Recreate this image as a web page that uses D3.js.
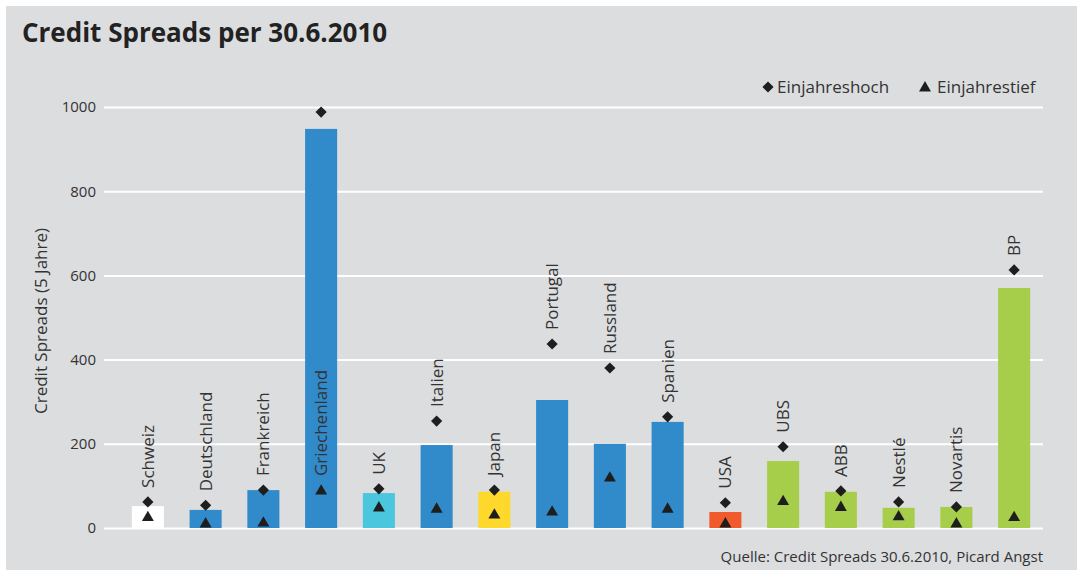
<!DOCTYPE html>
<html>
<head>
<meta charset="utf-8">
<script src="https://cdn.jsdelivr.net/npm/d3@7"></script>
<style>
  body { margin: 0; background: #fff; }
  svg { display: block; }
  text { font-family: "Open Sans", sans-serif; fill: #333; }
</style>
</head>
<body>
<svg id="chart" width="1077" height="570"></svg>
<script>
// chart data
var categories = ["Schweiz", "Deutschland", "Frankreich", "Griechenland", "UK", "Italien", "Japan", "Portugal",
  "Russland", "Spanien", "USA", "UBS", "ABB", "Nestlé", "Novartis", "BP"];
var spreads = [52, 43, 90, 948, 83, 197, 86, 304, 200, 252, 38, 159, 86, 48, 50, 570];
var highs = [62, 54, 90, 988, 93, 254, 90, 437, 380, 264, 60, 193, 88, 62, 50, 613];
var lows = [27, 12, 14, 90, 50, 47, 33, 40, 121, 47, 12, 65, 51, 29, 12, 27];
var yTicks = [0, 200, 400, 600, 800, 1000];
var barColors = ["#ffffff", "#318aca", "#318aca", "#318aca", "#4bc6df", "#318aca", "#fed92b", "#318aca",
  "#318aca", "#318aca", "#f15a2c", "#a6ce4a", "#a6ce4a", "#a6ce4a", "#a6ce4a", "#a6ce4a"];

var svg = d3.select("#chart");

// grey panel
svg.append("rect")
  .attr("x", 6).attr("y", 6)
  .attr("width", 1071).attr("height", 564)
  .attr("fill", "#dcdddf");

svg.append("text")
  .attr("x", 22).attr("y", 42)
  .attr("font-size", 26).attr("font-weight", "bold")
  .style("fill", "#222")
  .text("Credit Spreads per 30.6.2010");

var x = d3.scaleBand()
  .domain(categories)
  .range([119, 1043])
  .paddingInner(0.445)
  .paddingOuter(0.2225);

var y = d3.scaleLinear()
  .domain([0, 1000])
  .range([528, 107]);

// grid lines + tick labels
var yAxis = d3.axisLeft(y)
  .tickValues(yTicks)
  .tickFormat(d3.format("d"))
  .tickSize(-(1043 - 104))
  .tickPadding(8);

var gy = svg.append("g")
  .attr("transform", "translate(104,0)")
  .call(yAxis)
  .attr("font-size", 15);
gy.select(".domain").remove();
gy.selectAll(".tick line").attr("stroke", "#fff").attr("stroke-width", 2);
gy.selectAll(".tick text").style("fill", "#333");

svg.append("text")
  .attr("transform", "translate(47,321) rotate(-90)")
  .attr("text-anchor", "middle")
  .attr("font-size", 17)
  .text("Credit Spreads (5 Jahre)");

var rows = categories.map(function(c, i) {
  return {name: c, value: spreads[i], high: highs[i], low: lows[i], color: barColors[i]};
});

svg.append("g").selectAll("rect")
  .data(rows)
  .join("rect")
  .attr("x", d => x(d.name))
  .attr("y", d => y(d.value))
  .attr("width", x.bandwidth())
  .attr("height", d => y(0) - y(d.value))
  .attr("fill", d => d.color);

var cx = d => x(d.name) + x.bandwidth() / 2;

var diamond = d3.symbol().type(d3.symbolDiamond2).size(80);
var triangle = d3.symbol().type(d3.symbolTriangle).size(62);

svg.append("g").selectAll("path")
  .data(rows)
  .join("path")
  .attr("d", diamond)
  .attr("transform", d => "translate(" + cx(d) + "," + y(d.high) + ")")
  .attr("fill", "#1e1e1e");

svg.append("g").selectAll("path")
  .data(rows)
  .join("path")
  .attr("d", triangle)
  .attr("transform", d => "translate(" + cx(d) + "," + (y(d.low) + 1) + ")")
  .attr("fill", "#1e1e1e");

// category labels sit above the year high (or above the low if the high is near the top)
svg.append("g").selectAll("text")
  .data(rows)
  .join("text")
  .attr("transform", function(d) {
    var base = d.high > 900 ? d.low : d.high;
    return "translate(" + (cx(d) + 6) + "," + (y(base) - 14) + ") rotate(-90)";
  })
  .attr("font-size", 17)
  .text(d => d.name);

// legend
var legend = svg.append("g");
legend.append("path")
  .attr("d", diamond)
  .attr("transform", "translate(768,87)")
  .attr("fill", "#1e1e1e");
legend.append("text")
  .attr("x", 777).attr("y", 93)
  .attr("font-size", 17)
  .text("Einjahreshoch");
legend.append("path")
  .attr("d", triangle)
  .attr("transform", "translate(925,88)")
  .attr("fill", "#1e1e1e");
legend.append("text")
  .attr("x", 937).attr("y", 93)
  .attr("font-size", 17)
  .text("Einjahrestief");

svg.append("text")
  .attr("x", 1043).attr("y", 562)
  .attr("text-anchor", "end")
  .attr("font-size", 15)
  .text("Quelle: Credit Spreads 30.6.2010, Picard Angst");
</script>
</body>
</html>
